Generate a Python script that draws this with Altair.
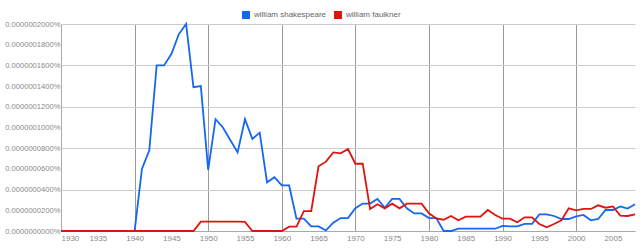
import altair as alt
import pandas as pd

years = list(range(1930, 2009))

# values in units of 1e-10 percent
shakespeare = [
    0, 0, 0, 0, 0, 0, 0, 0, 0, 0,          # 1930-1939
    0, 600, 780, 1600, 1600, 1710, 1900, 2000, 1390, 1400,   # 1940-1949
    590, 1080, 1000, 880, 760, 1080, 890, 950, 470, 520,     # 1950-1959
    440, 440, 120, 120, 45, 45, 5, 80, 125, 125,              # 1960-1969
    220, 265, 265, 310, 225, 310, 310, 220, 170, 170,         # 1970-1979
    125, 125, 0, 0, 22, 22, 22, 22, 22, 22,                   # 1980-1989
    50, 45, 45, 68, 68, 160, 160, 145, 116, 116,              # 1990-1999
    142, 155, 103, 116, 203, 203, 238, 216, 258,              # 2000-2008
]
faulkner = [
    0, 0, 0, 0, 0, 0, 0, 0, 0, 0,          # 1930-1939
    0, 0, 0, 0, 0, 0, 0, 0, 0, 90,         # 1940-1949
    90, 90, 90, 90, 90, 88, 0, 0, 0, 0,    # 1950-1959
    0, 42, 42, 193, 193, 625, 670, 760, 750, 792,             # 1960-1969
    650, 650, 213, 258, 219, 264, 219, 264, 264, 264,         # 1970-1979
    171, 122, 109, 145, 103, 138, 138, 138, 203, 155,         # 1980-1989
    119, 119, 84, 132, 132, 68, 36, 68, 103, 219,             # 1990-1999
    200, 213, 213, 248, 225, 238, 148, 145, 161,              # 2000-2008
]
series_names = ["william shakespeare", "william faulkner"]
series_colors = ["#1467f2", "#e0140f"]

rows = []
for name, vals in zip(series_names, [shakespeare, faulkner]):
    for y, v in zip(years, vals):
        rows.append({"year": y, "value": v * 1e-10, "series": name})
df = pd.DataFrame(rows)

x_label_values = list(range(1930, 2006, 5))
y_label_values = [i * 2e-8 for i in range(11)]

chart = alt.Chart(df).mark_line(strokeWidth=1.8).encode(
    x=alt.X("year:Q",
            scale=alt.Scale(domain=[1930, 2008], nice=False, zero=False),
            axis=alt.Axis(values=x_label_values, format="d", title=None,
                          ticks=False, labelFontSize=8, labelColor="#888888",
                          labelPadding=3, domainColor="#aaaaaa",
                          gridColor="#9a9a9a",
                          gridOpacity={"condition": {"test": "datum.value % 10 == 0 && datum.value > 1930", "value": 1}, "value": 0})),
    y=alt.Y("value:Q",
            scale=alt.Scale(domain=[0, 2e-7], nice=False),
            axis=alt.Axis(values=y_label_values, title=None, ticks=False,
                          labelExpr="format(datum.value, '.10f') + '%'",
                          labelFontSize=7.6, labelColor="#888888", labelPadding=1,
                          domainColor="#aaaaaa", gridColor="#cccccc",
                          gridOpacity={"condition": {"test": "round(datum.value * 1e10) % 400 == 0", "value": 1}, "value": 0})),
    color=alt.Color("series:N",
                    scale=alt.Scale(domain=series_names, range=series_colors),
                    sort=series_names,
                    legend=alt.Legend(orient="none", legendX=181, legendY=-13,
                                      direction="horizontal", title=None,
                                      symbolType="square", symbolSize=16,
                                      symbolStrokeWidth=4, symbolOpacity=1,
                                      labelFontSize=8, labelColor="#666666",
                                      labelOffset=4, columnPadding=1, padding=0)),
    order=alt.Order("series:N", sort="descending"),
).properties(
    width=574, height=207,
    autosize=alt.AutoSizeParams(type="none"),
    padding={"left": 61, "top": 24, "right": 5, "bottom": 21},
).configure(
    font="Liberation Sans"
).configure_view(stroke=None)

chart.save("out.html", embed_options={"renderer": "svg", "actions": False})
